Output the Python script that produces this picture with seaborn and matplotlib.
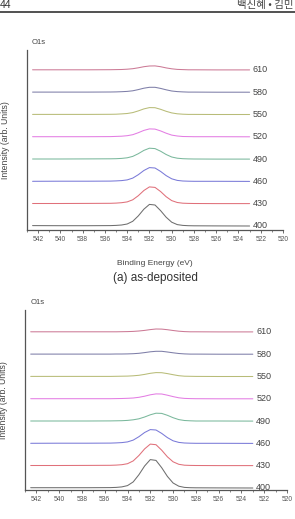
import matplotlib
matplotlib.use("Agg")
import matplotlib.pyplot as plt
from matplotlib.lines import Line2D
import seaborn as sns
import pandas as pd

sns.set_style("white")
plt.rcParams["font.family"] = ["Liberation Sans", "DejaVu Sans"]

# binding energy grid (eV)
energy = [542.5, 540, 537.5, 535.5, 535, 534.5, 534, 533.5, 533, 532.5, 532,
          531.5, 531, 530.5, 530, 529.5, 529, 528.5, 528, 526, 523]

temps = ["400", "430", "460", "490", "520", "550", "580", "610"]
colors = ["#6e6e6e", "#e0707a", "#7a7ad8", "#7ab89c", "#e37de3", "#b8bc78", "#7e7ea8", "#cc7a96"]

# (a) as-deposited, O1s intensity above each baseline
a400 = [0.4, 0.3, 0.3, 0.4, 0.6, 1.0, 2.0, 4.7, 10.1, 16.8, 21.6, 21.0, 15.4, 8.8, 3.8, 1.4, 0.6, 0.3, 0.2, 0.1, 0.0]
a430 = [0.2, 0.2, 0.3, 0.4, 0.6, 1.0, 1.8, 3.9, 8.0, 13.2, 16.8, 16.3, 12.2, 7.0, 3.1, 1.2, 0.5, 0.3, 0.2, 0.1, 0.1]
a460 = [0.1, 0.2, 0.2, 0.3, 0.5, 0.8, 1.5, 3.3, 6.7, 10.9, 13.8, 13.4, 10.0, 5.8, 2.6, 1.0, 0.4, 0.2, 0.1, 0.1, 0.0]
a490 = [0.1, 0.1, 0.2, 0.3, 0.4, 0.7, 1.3, 2.7, 5.4, 8.7, 10.9, 10.5, 7.9, 4.6, 2.1, 0.9, 0.4, 0.2, 0.1, 0.0, 0.0]
a520 = [0.1, 0.1, 0.1, 0.2, 0.4, 0.6, 1.1, 2.1, 4.1, 6.4, 7.9, 7.7, 5.9, 3.6, 1.7, 0.8, 0.3, 0.2, 0.1, 0.1, 0.0]
a550 = [0.1, 0.1, 0.1, 0.2, 0.3, 0.6, 1.0, 1.9, 3.6, 5.6, 6.9, 6.8, 5.2, 3.2, 1.6, 0.7, 0.3, 0.1, 0.1, 0.0, 0.0]
a580 = [0.1, 0.1, 0.1, 0.2, 0.3, 0.5, 0.8, 1.4, 2.6, 4.0, 4.9, 4.9, 3.8, 2.4, 1.2, 0.6, 0.3, 0.1, 0.1, 0.0, 0.0]
a610 = [0.1, 0.1, 0.1, 0.2, 0.3, 0.4, 0.7, 1.2, 2.1, 3.2, 3.9, 4.0, 3.2, 2.0, 1.1, 0.5, 0.3, 0.1, 0.1, 0.0, 0.0]

# (b) second sample set
b400 = [0.3, 0.3, 0.3, 0.4, 0.6, 1.1, 2.4, 6.1, 13.3, 22.0, 28.4, 27.6, 20.3, 11.6, 5.0, 1.8, 0.6, 0.3, 0.2, 0.1, 0.0]
b430 = [0.2, 0.2, 0.3, 0.4, 0.6, 1.0, 2.0, 4.8, 10.2, 16.8, 21.6, 21.0, 15.5, 8.9, 3.9, 1.4, 0.5, 0.3, 0.2, 0.1, 0.1]
b460 = [0.1, 0.2, 0.2, 0.3, 0.5, 0.8, 1.5, 3.3, 6.7, 10.9, 13.8, 13.4, 10.0, 5.8, 2.6, 1.0, 0.4, 0.2, 0.1, 0.1, 0.0]
b490 = [0.1, 0.1, 0.1, 0.2, 0.3, 0.4, 0.7, 1.3, 2.3, 4.1, 6.3, 7.9, 7.7, 5.8, 3.4, 1.5, 0.6, 0.3, 0.1, 0.1, 0.0]
b520 = [0.1, 0.1, 0.1, 0.1, 0.2, 0.3, 0.5, 0.8, 1.5, 2.6, 4.0, 4.9, 4.8, 3.6, 2.2, 1.0, 0.4, 0.2, 0.1, 0.0, 0.0]
b550 = [0.1, 0.1, 0.1, 0.1, 0.2, 0.3, 0.4, 0.7, 1.2, 2.1, 3.2, 3.9, 3.8, 2.9, 1.8, 0.8, 0.3, 0.2, 0.1, 0.0, 0.0]
b580 = [0.1, 0.1, 0.1, 0.1, 0.2, 0.2, 0.3, 0.5, 0.9, 1.6, 2.4, 2.9, 2.9, 2.2, 1.4, 0.7, 0.3, 0.1, 0.1, 0.0, 0.0]
b610 = [0.1, 0.1, 0.1, 0.1, 0.1, 0.2, 0.3, 0.5, 0.9, 1.5, 2.3, 2.9, 2.8, 2.2, 1.4, 0.7, 0.3, 0.1, 0.1, 0.0, 0.0]

panel_a = [a400, a430, a460, a490, a520, a550, a580, a610]
panel_b = [b400, b430, b460, b490, b520, b550, b580, b610]
step = 22.3
text_c = "#444444"


def stacked(curves):
    rows = []
    for i, (t, ys) in enumerate(zip(temps, curves)):
        for e, y in zip(energy, ys):
            rows.append({"energy": e, "temp": t, "y": y + i * step})
    return pd.DataFrame(rows)


def draw(ax, curves, ylim):
    df = stacked(curves)
    sns.lineplot(data=df, x="energy", y="y", hue="temp", palette=colors,
                 estimator=None, sort=False, legend=False, lw=0.75, ax=ax)
    for i, t in enumerate(temps):
        ax.text(522.7, i * step, t, fontsize=6.5, color=text_c, va="center", ha="left")
    ax.set_xlim(543, 520)
    ax.set_ylim(*ylim)
    ax.set_xticks(range(542, 519, -2))
    ax.set_xticks(range(543, 519, -1), minor=True)
    ax.tick_params(axis="x", which="major", direction="out", length=2.5, width=0.6,
                   labelsize=4.8, labelcolor="#555555", color="#555555", pad=1.5, bottom=True)
    ax.tick_params(axis="x", which="minor", direction="out", length=1.5, width=0.5,
                   color="#555555", bottom=True)
    ax.set_yticks([])
    for s in ["top", "right"]:
        ax.spines[s].set_visible(False)
    for s in ["left", "bottom"]:
        ax.spines[s].set_color("#555555")
        ax.spines[s].set_linewidth(0.9)
    ax.set_ylabel("Intensity (arb. Units)", fontsize=6.2, color=text_c)
    ax.yaxis.set_label_coords(-0.066, 0.5)
    ax.text(0.02, 1.04, "O1s", transform=ax.transAxes, fontsize=5.5, color=text_c, va="center")


fig = plt.figure(figsize=(2.95, 5.19), dpi=100)
W, H = 295, 519

ax1 = fig.add_axes([27 / W, 1 - 230 / H, 256 / W, 180 / H])
draw(ax1, panel_a, (-4, 176))
ax1.set_xlabel("Binding Energy (eV)", fontsize=6, color=text_c)
ax1.xaxis.set_label_coords(0.5, -30 / 180)

ax2 = fig.add_axes([25 / W, 1 - 490 / H, 262 / W, 180 / H])
draw(ax2, panel_b, (-2, 178))
ax2.set_xlabel("")

fig.text(155 / W, 1 - 278 / H, "(a) as-deposited", fontsize=8.5, color="#333333",
         ha="center", va="center")

# page header of the scanned paper
fig.add_artist(Line2D([0, 1], [1 - 12 / H, 1 - 12 / H], transform=fig.transFigure,
                      color="#333333", lw=1.2))
fig.text(0.0, 1 - 8 / H, "44", fontsize=7.5, color="#333333", ha="left", va="baseline")
fig.text(0.995, 1 - 8 / H, "백신혜 • 김민", fontsize=7.5, color="#444444", ha="right",
         va="baseline", family=["Noto Sans CJK KR", "DejaVu Sans"])

fig.savefig("out.png", dpi=100)
